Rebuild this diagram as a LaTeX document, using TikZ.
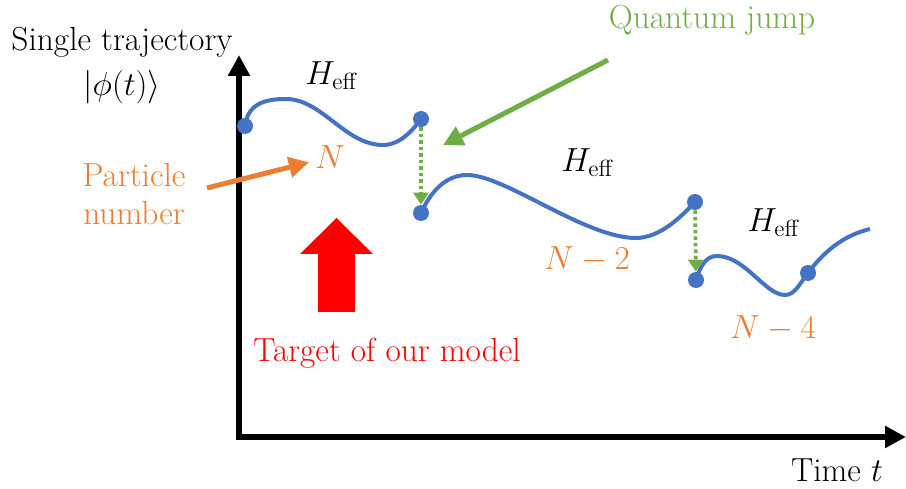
\RequirePackage{fix-cm}
\documentclass[tikz,border=0pt]{standalone}
\usepackage{amsmath}
\usetikzlibrary{arrows.meta}
\definecolor{trajblue}{HTML}{4472C4}
\definecolor{numorange}{HTML}{ED7D31}
\definecolor{jumpgreen}{HTML}{70AD47}

\begin{document}
\begin{tikzpicture}[x=0.02cm,y=-0.02cm,
  font=\fontsize{19}{22}\selectfont,
  axis/.style={line width=0.12cm,line join=miter,
    {Triangle[length=0.42cm,width=0.42cm]}-{Triangle[length=0.42cm,width=0.42cm]}},
  dot/.style={circle,fill=trajblue,inner sep=0pt,minimum size=0.32cm},
  traj/.style={trajblue,line width=0.08cm},
  jump/.style={jumpgreen,line width=0.075cm,dash pattern=on 0.07cm off 0.06cm,
    -{Triangle[length=0.24cm,width=0.3cm]}},
  num/.style={text=numorange},
  fatarrow/.style={line width=0.1cm,-{Triangle[length=0.4cm,width=0.4cm]}}]
\useasboundingbox (0,0) rectangle (906,489);

\coordinate (o) at (239,437);
\coordinate (ytip) at (239,55);
\coordinate (xtip) at (906,437);
\draw[axis] (ytip) -- (o) -- (xtip);
\node (ylab) at (122,42) {Single trajectory};
\node (ket) at (122,87) {$|\phi(t)\rangle$};
\node (xlab) at (837,470) {Time $t$};

\node[dot] (d1) at (245,126) {};
\node[dot] (d2) at (421,119) {};
\node[dot] (d3) at (421,213) {};
\node[dot] (d4) at (695,202) {};
\node[dot] (d5) at (696,280) {};
\node[dot] (d6) at (808,273) {};
\coordinate (tend) at (870,229);

\draw[traj] (d1.center) .. controls (248,104) and (264,99) .. (286,99)
  .. controls (322,99) and (345,145) .. (383,145)
  .. controls (400,145) and (413,130) .. (d2.center);
\draw[traj] (d3.center) .. controls (430,193) and (445,175) .. (467,175)
  .. controls (505,175) and (585,238) .. (636,238)
  .. controls (660,238) and (682,216) .. (d4.center);
\draw[traj] (d5.center) .. controls (701,264) and (707,256) .. (717,256)
  .. controls (745,256) and (765,295) .. (785,295)
  .. controls (795,295) and (800,283) .. (d6.center)
  .. controls (825,250) and (845,235) .. (tend);

\draw[jump] (d2) -- (d3);
\draw[jump] (d4) -- (d5);

\node (h1) at (331,76) {$H_{\text{eff}}$};
\node (h2) at (587,163) {$H_{\text{eff}}$};
\node (h3) at (773,223) {$H_{\text{eff}}$};
\node[num] (n0) at (330,157) {$N$};
\node[num] (n2) at (587,259) {$N-2$};
\node[num] (n4) at (773,328) {$N-4$};

\node[num,align=center] (plab) at (134,194) {Particle\\number};
\coordinate (pstart) at (207,188);
\draw[fatarrow,numorange] (pstart) -- (n0);

\node[text=jumpgreen] (qlab) at (712,20) {Quantum jump};
\coordinate (qstart) at (608,60);
\coordinate (qend) at (443,145);
\draw[fatarrow,jumpgreen] (qstart) -- (qend);

\fill[red] (318,312) -- (318,254) -- (300,254) -- (336.5,218) -- (373,254)
  -- (355,254) -- (355,312) -- cycle;
\node[text=red] (tlab) at (387,353) {Target of our model};
\end{tikzpicture}
\end{document}
